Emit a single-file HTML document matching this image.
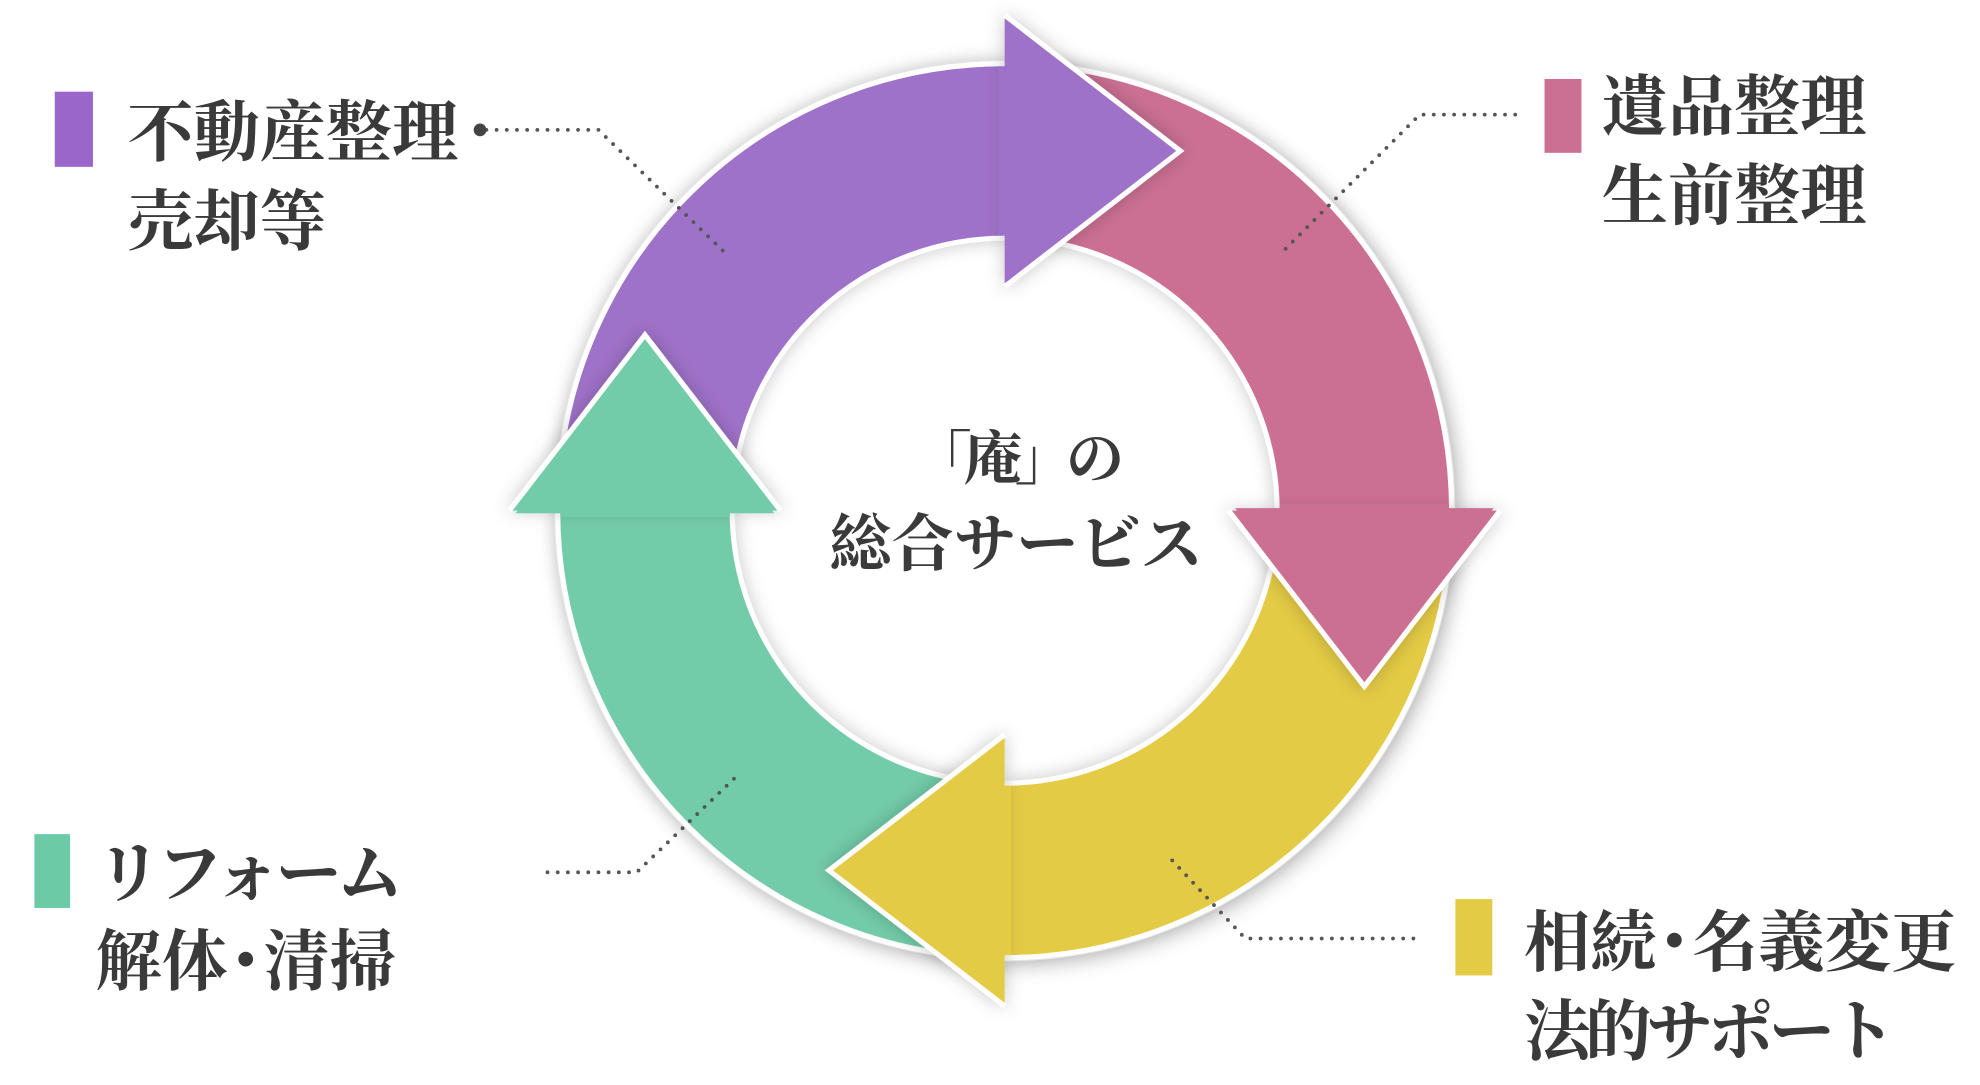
<!DOCTYPE html>
<html><head><meta charset="utf-8"><style>
html,body{margin:0;padding:0;background:#fff;}
svg{display:block;}
text{font-family:"Liberation Serif","Noto Serif CJK SC","Noto Sans CJK JP",serif;font-weight:700;fill:#3a3a3a;}
</style></head><body>
<svg width="1980" height="1085" viewBox="0 0 1555 852" preserveAspectRatio="none" xmlns="http://www.w3.org/2000/svg">
<defs>
<filter id="ring" x="-20%" y="-20%" width="140%" height="140%"><feGaussianBlur stdDeviation="9"/></filter>
<filter id="sh" x="-30%" y="-30%" width="160%" height="160%"><feDropShadow dx="0" dy="0" stdDeviation="7" flood-color="#000" flood-opacity="0.22"/></filter>
</defs>
<circle cx="794" cy="406" r="352" fill="#000" opacity="0.18" filter="url(#ring)"/>
<circle cx="789" cy="401" r="354" fill="#fff"/>
<g stroke="#fff" stroke-width="4" stroke-linejoin="miter">
<path filter="url(#sh)" fill="#9f72c9" d="M439.3,370.4 A351,351 0 0 1 789,50 L789,187 A214,214 0 0 0 575.8,382.3 Z"/>
<path filter="url(#sh)" fill="#cb7093" d="M819.6,51.3 A351,351 0 0 1 1140,401 L1003,401 A214,214 0 0 0 807.7,187.8 Z"/>
<path filter="url(#sh)" fill="#e3cb45" d="M1138.7,431.6 A351,351 0 0 1 789,752 L789,615 A214,214 0 0 0 1002.2,419.7 Z"/>
<path filter="url(#sh)" fill="#73cca9" d="M758.4,750.7 A351,351 0 0 1 438,401 L575,401 A214,214 0 0 0 770.3,614.2 Z"/>
<!-- heads -->
<path filter="url(#sh)" fill="#9f72c9" d="M789,12 L927,118.5 L789,225"/>
<path filter="url(#sh)" fill="#cb7093" d="M1178,401 L1071.5,539 L965,401"/>
<path filter="url(#sh)" fill="#e3cb45" d="M789,790 L651,683.5 L789,577"/>
<path filter="url(#sh)" fill="#73cca9" d="M400,401 L506.5,263 L613,401"/>
</g>
<!-- cover base seams -->
<path fill="#9f72c9" d="M784,52 L792,52 L792,185 L784,185 Z"/>
<path fill="#9f72c9" d="M791,16 L922,118.5 L791,221 Z"/>
<path fill="#cb7093" d="M1005,396 L1138,396 L1138,404 L1005,404 Z"/>
<path fill="#cb7093" d="M1173,399 L1071.5,534 L970,399 Z"/>
<path fill="#e3cb45" d="M786,617 L794,617 L794,750 L786,750 Z"/>
<path fill="#e3cb45" d="M787,785 L656,683.5 L787,582 Z"/>
<path fill="#73cca9" d="M440,398 L573,398 L573,406 L440,406 Z"/>
<path fill="#73cca9" d="M405,403 L506.5,268 L608,403 Z"/>
<!-- leaders -->
<g fill="none" stroke="#555" stroke-width="3" stroke-linecap="round" stroke-dasharray="0 8">
<polyline points="382,102 470,102 573,202"/>
<polyline points="1190,90 1115,90 1008,197"/>
<polyline points="430,685 500,685 578,610"/>
<polyline points="1110,737 978,737 920,675"/>
</g>
<circle cx="377" cy="102" r="5" fill="#444"/>
<!-- bars -->
<rect x="43" y="72" width="30" height="59" fill="#9b66c9"/>
<rect x="1213" y="62" width="29" height="58" fill="#cb7093"/>
<rect x="27" y="655" width="28" height="58" fill="#6ccba6"/>
<rect x="1143" y="706" width="29" height="60" fill="#e3cb45"/>
<!-- labels -->
<text x="100" y="122" font-size="52">不動産整理</text>
<text x="100" y="192" font-size="52">売却等</text>
<text x="1258" y="102" font-size="52">遺品整理</text>
<text x="1258" y="172" font-size="52">生前整理</text>
<text x="75" y="704" font-size="52" letter-spacing="-4">リフォーム</text>
<text x="75" y="773" font-size="52">解体<tspan dx="-12">・</tspan><tspan dx="-12">清掃</tspan></text>
<text x="1197" y="758" font-size="52">相続<tspan dx="-12">・</tspan><tspan dx="-12">名義変更</tspan></text>
<text x="1197" y="828" font-size="52" letter-spacing="-4">法的サポート</text>
<text x="797" y="376" font-size="46" text-anchor="middle" letter-spacing="-6">「庵」の</text>
<text x="798" y="444" font-size="49" text-anchor="middle">総合サービス</text>
</svg>
</body></html>
